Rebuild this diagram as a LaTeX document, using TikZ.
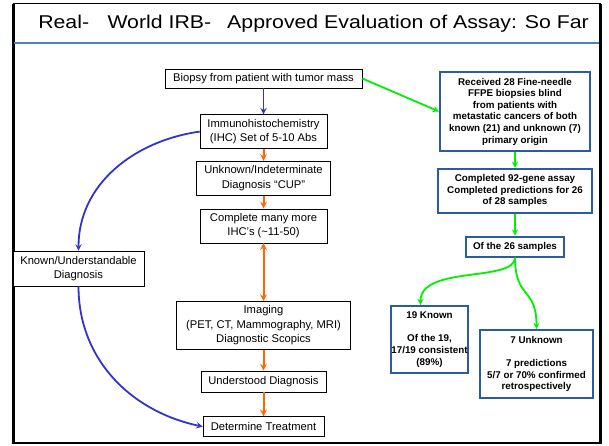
\documentclass[tikz,border=0pt]{standalone}
\usepackage{fontspec}
\setmainfont{Liberation Sans}
\usepackage{tikz}
\usetikzlibrary{arrows}
\usetikzlibrary{positioning}
\definecolor{flowblue}{RGB}{51,51,204}
\definecolor{floworange}{RGB}{255,102,0}
\definecolor{flowgreen}{RGB}{0,240,0}
\definecolor{boxblue}{RGB}{41,92,165}
\definecolor{ruleblue}{RGB}{79,129,189}
\newcommand{\stagefont}{\fontsize{11.2}{14.6}\selectfont}
\newcommand{\resultfont}{\fontsize{9.8}{11.6}\selectfont\bfseries}
\newcommand{\slidetitlefont}{\fontsize{18.5}{22}\selectfont}
\tikzset{stage/.style={draw,fill=white,align=center,inner sep=0pt,font=\stagefont}}
\tikzset{result/.style={draw=boxblue,line width=1.8pt,fill=white,align=center,inner sep=0pt,font=\resultfont}}

\begin{document}
\begin{tikzpicture}[
		x = 1pt, y = -1pt, % pixel grid
		> = stealth, % arrow head style
		semithick, % line style
		]
		
		\tikzstyle{blueflow}=[->, flowblue, line width=1.8pt]
		\tikzstyle{orangeflow}=[->, floworange, line width=2pt]
		\tikzstyle{greenflow}=[->, flowgreen, line width=1.8pt]
		
		\useasboundingbox (0,0) rectangle (609,446);
		
		% Slide frame
		\draw[line width=1pt] (13,4) rectangle (600,443);
		\draw[line width=3pt] (13,4) -- (13,444);
		\draw[line width=3pt] (600,4) -- (600,444);
		\draw[line width=2pt] (12,443) -- (601,443);
		\draw[ruleblue, line width=1.4pt] (14,43) -- (599,43);
		\node[anchor=base west, inner sep=0pt, font=\slidetitlefont] (title) at (38,29)
			{\scalebox{1.15}[1]{Real-\hspace{16pt}World IRB-\hspace{14pt}Approved Evaluation of Assay: So Far}};
		
		% Clinical work-up
		\node[stage, minimum width=197pt, minimum height=19pt] (biopsy) at (263.5,78.5) {Biopsy from patient with tumor mass};
		\node[stage, minimum width=127pt, minimum height=34pt] (ihc) [below=26pt of biopsy] {Immunohistochemistry\\(IHC) Set of 5-10 Abs};
		\node[stage, minimum width=134pt, minimum height=34pt] (cup) [below=12pt of ihc] {Unknown/Indeterminate\\Diagnosis “CUP”};
		\node[stage, minimum width=127pt, minimum height=34pt] (moreihc) [below=13pt of cup] {Complete many more\\IHC’s (\textasciitilde11-50)};
		\node[stage, minimum width=174pt, minimum height=48pt] (imaging) [below=58pt of moreihc] {Imaging\\(PET, CT, Mammography, MRI)\\Diagnostic Scopics};
		\node[stage, minimum width=125pt, minimum height=21pt] (understood) [below=21pt of imaging] {Understood Diagnosis};
		\node[stage, minimum width=121pt, minimum height=20pt] (treat) [below=24pt of understood] {Determine Treatment};
		\node[stage, minimum width=131pt, minimum height=35pt] (known) at (78.5,268.5) {Known/Understandable\\Diagnosis};
		
		% Assay evaluation
		\node[result, minimum width=150pt, minimum height=79pt] (received) at (515,111.5) {Received 28 Fine-needle\\FFPE biopsies blind\\from patients with\\metastatic cancers of both\\known (21) and unknown (7)\\primary origin};
		\node[result, minimum width=154pt, minimum height=44pt] (assay) [below=16pt of received] {Completed 92-gene assay\\Completed predictions for 26\\of 28 samples};
		\node[result, minimum width=98pt, minimum height=20pt] (samples) [below=22pt of assay] {Of the 26 samples};
		\node[result, minimum width=73pt, minimum height=67pt] (knownres) at (429.5,339.5) {19 Known\\[11.6pt]Of the 19,\\17/19 consistent\\(89\%)};
		\node[result, minimum width=113pt, minimum height=68pt] (unknownres) at (536.5,364) {7 Unknown\\[11.6pt]7 predictions\\5/7 or 70\% confirmed\\retrospectively};
		
		% Linear
		\path[blueflow] (biopsy) edge (ihc);
		\path[orangeflow] (ihc) edge (cup);
		\path[orangeflow] (cup) edge (moreihc);
		\path[orangeflow, <->] (moreihc) edge (imaging);
		\path[orangeflow] (imaging) edge (understood);
		\path[orangeflow] (understood) edge (treat);
		
		% Shortcut
		\draw[blueflow] (ihc.west) to[out=188, in=90] (known.north);
		\draw[blueflow] (known.south) to[out=270, in=168] (treat.west);
		
		% Assay
		\draw[greenflow] (biopsy.east) -- (received.west);
		\path[greenflow] (received) edge (assay);
		\path[greenflow] (assay) edge (samples);
		\draw[greenflow] (samples.south) .. controls +(0,25) and +(0,-40) .. ([xshift=-9pt]knownres.north);
		\draw[greenflow] (samples.south) .. controls +(0,42) and +(0,-42) .. (unknownres.north);
		\end{tikzpicture}
\end{document}
